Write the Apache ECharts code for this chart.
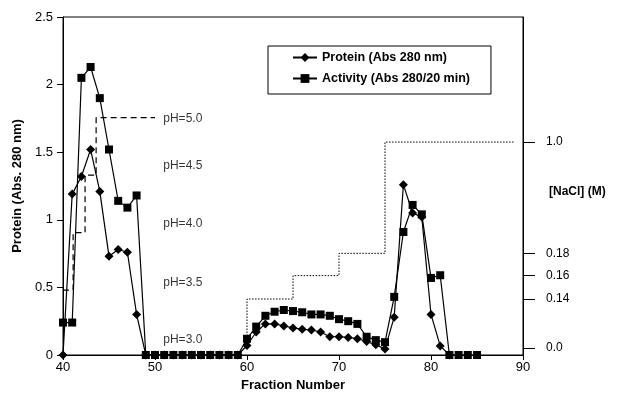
<!DOCTYPE html>
<html>
<head>
<meta charset="utf-8">
<script src="https://cdn.jsdelivr.net/npm/echarts@6/dist/echarts.min.js"></script>
<style>html,body{margin:0;padding:0;background:#fff;}#c{width:620px;height:408px;}</style>
</head>
<body>
<div id="c"></div>
<script>
// Fractions and values
const proteinX = [40,41,42,43,44,45,46,47,48,49,50,51,52,53,54,55,56,57,58,59,60,61,62,63,64,65,66,67,68,69,70,71,72,73,74,75,76,77,78,79,80,81,82];
const proteinY = [0,1.19,1.32,1.52,1.21,0.73,0.78,0.76,0.30,0,0,0,0,0,0,0,0,0,0,0,0.07,0.17,0.23,0.23,0.215,0.20,0.19,0.185,0.17,0.135,0.135,0.13,0.12,0.10,0.075,0.045,0.28,1.26,1.05,1.02,0.30,0.067,0];
const activityX = [40,41,42,43,44,45,46,47,48,49,50,51,52,53,54,55,56,57,58,59,60,61,62,63,64,65,66,67,68,69,70,71,72,73,74,75,76,77,78,79,80,81,82,83,84,85];
const activityY = [0.24,0.24,2.05,2.13,1.90,1.52,1.14,1.09,1.18,0,0,0,0,0,0,0,0,0,0,0,0.12,0.21,0.29,0.32,0.333,0.325,0.316,0.30,0.30,0.29,0.265,0.25,0.23,0.135,0.11,0.095,0.43,0.91,1.11,1.04,0.57,0.59,0,0,0,0];
// pH step gradient (left-axis units)
const phX = [40,41.1,42.4,43.6,50];
const phY = [0.48,0.905,1.33,1.755,1.755];
const phLabels = ['pH=3.0','pH=3.5','pH=4.0','pH=4.5','pH=5.0'];
const phLabelY = [0.111,0.535,0.969,1.40,1.745];
const phLabelX = 50.9;
// NaCl right axis (nonlinear ticks, positions in left-axis units)
const naclTickPos = [0.052,0.414,0.587,0.752,1.575];
const naclTickLabels = ['0.0','0.14','0.16','0.18','1.0'];
const naclX = [60,60,65,70,75,89];
const naclLevel = [0,1,2,3,4,4]; // index into naclTickPos

const chart = echarts.init(document.getElementById('c'), null, {renderer:'canvas'});
const font = 'Liberation Sans, Arial, sans-serif';
const pairs = (xs, ys) => xs.map((x,i)=>[x, ys[i]]);

const option = {
  animation:false,
  backgroundColor:'#fff',
  textStyle:{fontFamily:font},
  grid:{left:63,right:97,top:17,bottom:53,show:true,borderColor:'#000',borderWidth:1,backgroundColor:'transparent'},
  legend:{
    orient:'vertical', left:268, top:46,
    padding:[5,21,9,24], itemGap:8, itemWidth:24, itemHeight:11,
    borderColor:'#000', borderWidth:1, backgroundColor:'#fff',
    textStyle:{fontFamily:font,fontSize:12.5,fontWeight:'bold',color:'#000'},
    data:['Protein (Abs 280 nm)','Activity (Abs 280/20 min)']
  },
  xAxis:{
    type:'value', min:40, max:90, interval:10,
    name:'Fraction Number', nameLocation:'middle', nameGap:22,
    nameTextStyle:{fontFamily:font,fontSize:13,fontWeight:'bold',color:'#000'},
    axisLine:{lineStyle:{color:'#000',width:1}},
    axisTick:{show:true,length:5,lineStyle:{color:'#000'}},
    axisLabel:{color:'#000',fontSize:13,fontFamily:font,margin:6},
    splitLine:{show:false}
  },
  yAxis:[{
    type:'value', min:0, max:2.5, interval:0.5,
    name:'Protein (Abs. 280 nm)', nameLocation:'middle', nameGap:29,
    nameTextStyle:{fontFamily:font,fontSize:13,fontWeight:'bold',color:'#000'},
    axisLine:{show:true,lineStyle:{color:'#000',width:1}},
    axisTick:{show:true,length:6,lineStyle:{color:'#000'}},
    axisLabel:{color:'#000',fontSize:13,fontFamily:font,margin:10},
    splitLine:{show:false}
  },{
    type:'value', min:0, max:2.5, position:'right',
    axisLine:{show:true,lineStyle:{color:'#000',width:1}},
    axisTick:{show:true,length:12,customValues:naclTickPos,lineStyle:{color:'#000'}},
    axisLabel:{show:true,color:'#000',fontSize:12,fontFamily:font,margin:23,customValues:naclTickPos,
      formatter:(v)=>{const i=naclTickPos.findIndex(p=>Math.abs(p-v)<1e-6);return i>=0?naclTickLabels[i]:'';}},
    splitLine:{show:false}
  }],
  graphic:[{
    type:'text', left:549, top:186,
    style:{text:'[NaCl] (M)',font:'bold 12px '+font,fill:'#000'}
  }],
  series:[
    {
      name:'pH', type:'line', step:'end', data:pairs(phX,phY), symbol:'none',
      lineStyle:{color:'#000',width:1.2,type:[6,4]}, z:1, silent:true
    },
    {
      name:'NaCl', type:'line', step:'end', yAxisIndex:1,
      data:naclX.map((x,i)=>[x,naclTickPos[naclLevel[i]]]), symbol:'none',
      lineStyle:{color:'#000',width:1,type:[1.5,1.5]}, z:1, silent:true
    },
    {
      name:'pHLabels', type:'scatter', symbolSize:0,
      data:phLabelY.map((y,i)=>({value:[phLabelX,y],label:{formatter:phLabels[i]}})),
      label:{show:true,position:'right',distance:0,color:'#000',fontSize:12,fontFamily:font},
      silent:true
    },
    {
      name:'Protein (Abs 280 nm)', type:'line', data:pairs(proteinX,proteinY),
      symbol:'diamond', symbolSize:9, showAllSymbol:true,
      lineStyle:{color:'#000',width:1.2}, itemStyle:{color:'#000'}, z:3
    },
    {
      name:'Activity (Abs 280/20 min)', type:'line', data:pairs(activityX,activityY),
      symbol:'rect', symbolSize:8, showAllSymbol:true,
      lineStyle:{color:'#000',width:1.2}, itemStyle:{color:'#000'}, z:4
    }
  ]
};
chart.setOption(option);
</script>
</body>
</html>
